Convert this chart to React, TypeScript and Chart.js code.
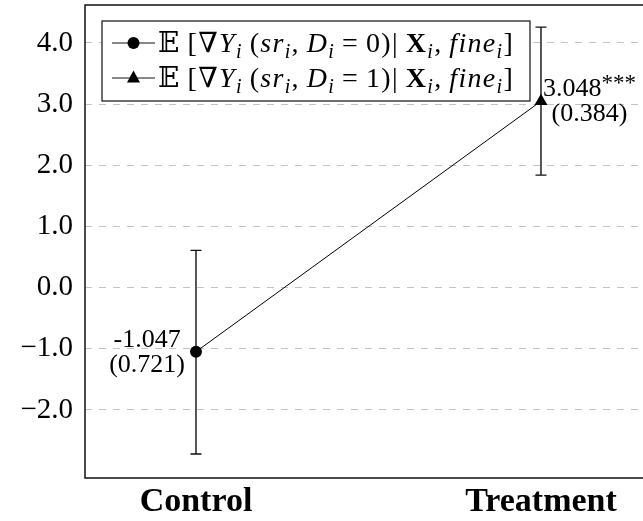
import React, { useEffect, useRef } from "react";
import { Chart, registerables } from "chart.js";

Chart.register(...registerables);

// Estimated effects by group
const groups = ["Control", "Treatment"];
const estimates = [-1.047, 3.048];
const stdErrors = [0.721, 0.384];
const significance = ["", "***"];
const intervalLow = [-2.72, 1.84];
const intervalHigh = [0.61, 4.26];
const yTickValues = [-2, -1, 0, 1, 2, 3, 4];
const markerStyles = ["circle", "triangle"];
const legendTreatmentValues = ["0", "1"];

const SERIF = "'Liberation Serif', 'Times New Roman', serif";
const MATH = "'Liberation Serif', 'DejaVu Serif', 'DejaVu Sans', serif";

type Seg = { t: string; k: "rm" | "it" | "bf" | "sub" | "bb" };

// E[ ∇Y_i (sr_i, D_i = d) | X_i, fine_i ]
function expectationLabel(d: string): Seg[] {
  return [
    { t: "𝔼", k: "bb" },
    { t: "\u2009[", k: "rm" },
    { t: "∇", k: "rm" },
    { t: "Y", k: "it" },
    { t: "i", k: "sub" },
    { t: "\u2009(", k: "rm" },
    { t: "sr", k: "it" },
    { t: "i", k: "sub" },
    { t: ",\u2009", k: "rm" },
    { t: "D", k: "it" },
    { t: "i", k: "sub" },
    { t: "\u2009=\u2009" + d + ")", k: "rm" },
    { t: "|\u2009", k: "rm" },
    { t: "X", k: "bf" },
    { t: "i", k: "sub" },
    { t: ",\u2009", k: "rm" },
    { t: "fine", k: "it" },
    { t: "i", k: "sub" },
    { t: "]", k: "rm" },
  ];
}

function segFont(k: Seg["k"], size: number): string {
  if (k === "it") return `italic ${size}px ${SERIF}`;
  if (k === "bf") return `bold ${size}px ${SERIF}`;
  if (k === "sub") return `italic ${Math.round(size * 0.7)}px ${SERIF}`;
  return `${size}px ${MATH}`;
}

function drawRich(ctx: any, segs: Seg[], x: number, y: number, size: number, spacing: number) {
  ctx.textBaseline = "alphabetic";
  ctx.textAlign = "left";
  ctx.letterSpacing = spacing + "px";
  let cx = x;
  for (const s of segs) {
    ctx.font = segFont(s.k, size);
    const dy = s.k === "sub" ? size * 0.22 : 0;
    ctx.fillText(s.t, cx, y + dy);
    cx += ctx.measureText(s.t).width;
  }
  ctx.letterSpacing = "0px";
  return cx - x;
}

function drawMarker(ctx: CanvasRenderingContext2D, style: string, x: number, y: number) {
  ctx.beginPath();
  if (style === "circle") {
    ctx.arc(x, y, 6, 0, Math.PI * 2);
  } else {
    ctx.moveTo(x, y - 7.5);
    ctx.lineTo(x + 6.5, y + 4.5);
    ctx.lineTo(x - 6.5, y + 4.5);
    ctx.closePath();
  }
  ctx.fill();
}

const frameAndBars = {
  id: "frameAndBars",
  beforeDatasetsDraw(chart: any) {
    const { ctx, chartArea } = chart;
    const y = chart.scales.y;
    const x = chart.scales.x;
    ctx.save();
    // error bars
    ctx.strokeStyle = "#111";
    ctx.lineWidth = 1.4;
    groups.forEach((_, i) => {
      const px = x.getPixelForValue(i);
      const top = y.getPixelForValue(intervalHigh[i]);
      const bot = y.getPixelForValue(intervalLow[i]);
      ctx.beginPath();
      ctx.moveTo(px, top);
      ctx.lineTo(px, bot);
      ctx.moveTo(px - 5.5, top);
      ctx.lineTo(px + 5.5, top);
      ctx.moveTo(px - 5.5, bot);
      ctx.lineTo(px + 5.5, bot);
      ctx.stroke();
    });
    // axis frame
    ctx.lineWidth = 1.5;
    ctx.beginPath();
    ctx.moveTo(chartArea.right + 2, chartArea.top);
    ctx.lineTo(chartArea.left, chartArea.top);
    ctx.lineTo(chartArea.left, chartArea.bottom);
    ctx.lineTo(chartArea.right + 2, chartArea.bottom);
    ctx.stroke();
    ctx.restore();
  },
  afterDatasetsDraw(chart: any) {
    const { ctx } = chart;
    const meta = chart.getDatasetMeta(0);
    ctx.save();
    ctx.fillStyle = "#000";
    const size = 26;
    const starSize = 23;
    groups.forEach((_, i) => {
      const pt = meta.data[i];
      const main = estimates[i].toFixed(3);
      const se = "(" + stdErrors[i].toFixed(3) + ")";
      ctx.font = `${size}px ${SERIF}`;
      const wMain = ctx.measureText(main).width;
      const wSe = ctx.measureText(se).width;
      ctx.font = `${starSize}px ${SERIF}`;
      const wStar = significance[i] ? ctx.measureText(significance[i]).width : 0;
      const w1 = wMain + wStar;
      const blockW = Math.max(w1, wSe);
      const left = i === 0 ? pt.x - 11 - blockW : pt.x + 2;
      const cx = left + blockW / 2;
      ctx.textBaseline = "alphabetic";
      ctx.textAlign = "left";
      ctx.font = `${size}px ${SERIF}`;
      const b1 = pt.y - 5;
      ctx.fillText(main, cx - w1 / 2, b1);
      if (wStar) {
        ctx.font = `${starSize}px ${SERIF}`;
        ctx.fillText(significance[i], cx - w1 / 2 + wMain, b1 - 6);
      }
      ctx.font = `${size}px ${SERIF}`;
      ctx.fillText(se, cx - wSe / 2, pt.y + 20);
    });
    ctx.restore();
  },
  afterDraw(chart: any) {
    const { ctx } = chart;
    ctx.save();
    // legend box
    const bx = 102, by = 21, bw = 428, bh = 80;
    ctx.fillStyle = "#fff";
    ctx.fillRect(bx, by, bw, bh);
    ctx.strokeStyle = "#111";
    ctx.lineWidth = 1.2;
    ctx.strokeRect(bx, by, bw, bh);
    const rows = [43, 78];
    ctx.fillStyle = "#000";
    legendTreatmentValues.forEach((d, r) => {
      const ry = rows[r];
      ctx.lineWidth = 1;
      ctx.beginPath();
      ctx.moveTo(112, ry);
      ctx.lineTo(155, ry);
      ctx.stroke();
      drawMarker(ctx, markerStyles[r], 133.5, ry);
      drawRich(ctx, expectationLabel(d), 158, ry + 9, 28, 1.3);
    });
    ctx.restore();
  },
};

export default function App() {
  const ref = useRef<HTMLCanvasElement | null>(null);

  useEffect(() => {
    const canvas = ref.current;
    if (!canvas) return;
    const chart = new Chart(canvas, {
      type: "line",
      data: {
        datasets: [
          {
            data: groups.map((_, i) => ({ x: i, y: estimates[i] })),
            borderColor: "#000",
            borderWidth: 1,
            pointStyle: markerStyles as any,
            pointRadius: [6, 7.5],
            pointBackgroundColor: "#000",
            pointBorderColor: "#000",
            pointBorderWidth: 0,
            tension: 0,
          },
        ],
      },
      options: {
        responsive: false,
        animation: false,
        events: [],
        layout: { autoPadding: false, padding: { top: 5, left: 0, right: 0, bottom: 0 } },
        plugins: { legend: { display: false }, tooltip: { enabled: false } },
        scales: {
          x: {
            type: "linear",
            min: -0.3217,
            max: 1.2957,
            afterBuildTicks: (s: any) => {
              s.ticks = groups.map((_, i) => ({ value: i }));
            },
            afterFit: (s: any) => {
              s.height = 43;
              s.paddingLeft = 0;
              s.paddingRight = 0;
            },
            grid: { display: false, drawTicks: false },
            border: { display: false },
            ticks: {
              callback: (v: any) => groups[v] ?? "",
              font: { family: SERIF, size: 34, weight: "bold" },
              color: "#000",
              padding: 4,
              maxRotation: 0,
              autoSkip: false,
            },
          },
          y: {
            type: "linear",
            min: -3.112,
            max: 4.621,
            afterBuildTicks: (s: any) => {
              s.ticks = yTickValues.map((v) => ({ value: v }));
            },
            afterFit: (s: any) => {
              s.width = 85;
              s.paddingTop = 0;
              s.paddingBottom = 0;
            },
            grid: { color: "#c4c4c4", lineWidth: 1, drawTicks: false },
            border: { display: false, dash: [7, 7] },
            ticks: {
              callback: (v: any) => (v < 0 ? "\u2212" : "") + Math.abs(Number(v)).toFixed(1),
              font: { family: SERIF, size: 29 },
              color: "#000",
              padding: 12,
            },
          },
        },
      },
      plugins: [frameAndBars],
    } as any);
    return () => chart.destroy();
  }, []);

  return (
    <div style={{ position: "absolute", left: 0, top: 0, width: 643, height: 521 }}>
      <canvas ref={ref} width={643} height={521} style={{ display: "block" }} />
    </div>
  );
}
